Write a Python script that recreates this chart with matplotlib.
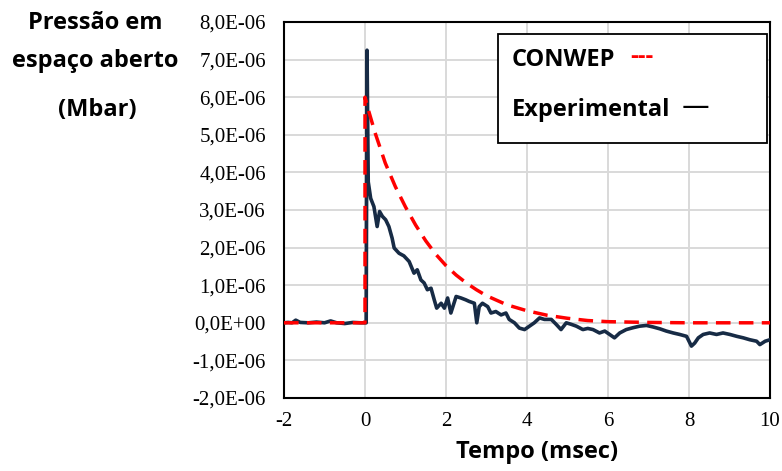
import matplotlib.pyplot as plt
from matplotlib.patches import Rectangle
from matplotlib.ticker import FuncFormatter, MultipleLocator

plt.rcParams["axes.unicode_minus"] = False

# tempo (msec) e pressão (x 1e-6 Mbar)
exp_t = [-2.0, -1.9, -1.8, -1.71, -1.6, -1.4, -1.2, -1.0, -0.85, -0.7, -0.5, -0.3, -0.1, 0.03,
         0.05, 0.08, 0.14, 0.22, 0.30, 0.36, 0.43, 0.51, 0.59, 0.67, 0.72, 0.84, 0.96, 1.09,
         1.21, 1.29, 1.38, 1.46, 1.54, 1.63, 1.71, 1.77, 1.88, 1.96, 2.04, 2.12, 2.25, 2.37,
         2.49, 2.57, 2.70, 2.76, 2.82, 2.90, 3.03, 3.11, 3.23, 3.36, 3.48, 3.56, 3.69, 3.81,
         3.94, 4.06, 4.18, 4.31, 4.43, 4.60, 4.72, 4.84, 4.97, 5.09, 5.22, 5.38, 5.50, 5.63,
         5.79, 5.92, 6.04, 6.16, 6.29, 6.45, 6.62, 6.78, 6.95, 7.11, 7.28, 7.44, 7.61, 7.77,
         7.94, 8.06, 8.14, 8.23, 8.35, 8.51, 8.68, 8.84, 9.01, 9.18, 9.34, 9.50, 9.67, 9.75,
         9.88, 10.0]
exp_p = [0.0, 0.01, 0.0, 0.07, 0.01, 0.0, 0.02, 0.0, 0.05, 0.0, -0.02, 0.01, 0.0, 0.0,
         7.25, 3.75, 3.31, 3.09, 2.56, 2.96, 2.83, 2.74, 2.56, 2.25, 1.99, 1.85, 1.78, 1.63,
         1.32, 1.41, 1.14, 1.06, 0.88, 0.92, 0.61, 0.39, 0.52, 0.39, 0.66, 0.26, 0.70, 0.66,
         0.61, 0.57, 0.52, 0.0, 0.43, 0.52, 0.43, 0.26, 0.30, 0.21, 0.26, 0.09, 0.0, -0.14,
         -0.18, -0.09, 0.0, 0.13, 0.09, 0.09, -0.04, -0.18, 0.0, -0.04, -0.09, -0.18, -0.15, -0.18,
         -0.27, -0.22, -0.31, -0.40, -0.27, -0.18, -0.13, -0.09, -0.07, -0.11, -0.16, -0.22, -0.27, -0.31,
         -0.36, -0.62, -0.54, -0.40, -0.31, -0.27, -0.31, -0.27, -0.31, -0.36, -0.40, -0.45, -0.49, -0.58,
         -0.49, -0.45]

conwep_t = [-2.0, 0.0, 0.0, 0.1, 0.25, 0.5, 0.75, 1.0, 1.25, 1.5, 1.75, 2.0, 2.25, 2.5, 2.75,
            3.0, 3.5, 4.0, 4.5, 5.0, 5.5, 6.0, 7.0, 8.0, 9.0, 10.0]
conwep_p = [0.0, 0.0, 6.0, 5.6, 5.05, 4.25, 3.62, 3.08, 2.6, 2.18, 1.82, 1.52, 1.27, 1.06, 0.88,
            0.72, 0.48, 0.32, 0.20, 0.12, 0.06, 0.03, 0.01, 0.0, 0.0, 0.0]

W, H = 782, 471
fig = plt.figure(figsize=(W / 100, H / 100), dpi=100)
ax = fig.add_axes([284 / W, 1 - 398 / H, (770 - 284) / W, (398 - 22) / H])

ax.plot(exp_t, [p * 1e-6 for p in exp_p], color="#172b45", lw=2.6, zorder=3)
ax.plot(conwep_t, [p * 1e-6 for p in conwep_p], color="#ff0000", lw=2.5,
        dashes=(4.2, 2.4), zorder=4)

ax.set_xlim(-2, 10)
ax.set_ylim(-2e-6, 8e-6)
ax.xaxis.set_major_locator(MultipleLocator(2))
ax.yaxis.set_major_locator(MultipleLocator(1e-6))


def sci_comma(v, pos):
    m = round(v * 1e6, 1)
    if m == 0:
        return "0,0E+00"
    return f"{m:.1f}".replace(".", ",") + "E-06"


ax.xaxis.set_major_formatter(FuncFormatter(lambda v, pos: f"{v:.0f}"))
ax.yaxis.set_major_formatter(FuncFormatter(sci_comma))
ax.grid(True, color="#d9d9d9", lw=1.4, zorder=0)
ax.set_axisbelow(True)
ax.tick_params(length=0, labelsize=15, pad=13)
ax.tick_params(axis="x", pad=10)
for lab in ax.get_xticklabels() + ax.get_yticklabels():
    lab.set_fontfamily("Liberation Serif")
for s in ax.spines.values():
    s.set_linewidth(1.5)

lab_font = dict(family="Open Sans", weight="bold", fontsize=17)


def fxy(px, py):
    return px / W, 1 - py / H


fig.text(*fxy(537, 452), "Tempo (msec)", ha="center", va="center", **lab_font)
fig.text(*fxy(95, 23), "Pressão em", ha="center", va="center", **lab_font)
fig.text(*fxy(95, 61), "espaço aberto", ha="center", va="center", **lab_font)
fig.text(*fxy(97, 110), "(Mbar)", ha="center", va="center", **lab_font)

# caixa da legenda
x0, y0 = fxy(498, 143)
x1, y1 = fxy(767, 34)
fig.add_artist(Rectangle((x0, y0), x1 - x0, y1 - y0, transform=fig.transFigure,
                         facecolor="white", edgecolor="black", lw=1.3, zorder=5))
fig.text(*fxy(512, 60), "CONWEP", ha="left", va="center", zorder=6, **lab_font)
fig.text(*fxy(630, 57), "---", ha="left", va="center", color="#ff0000", zorder=6, **lab_font)
fig.text(*fxy(512, 110), "Experimental", ha="left", va="center", zorder=6, **lab_font)
fig.text(*fxy(682, 107), "—", ha="left", va="center", color="black", zorder=6,
         family="DejaVu Sans", fontsize=20)

fig.savefig("out.png", dpi=100)
